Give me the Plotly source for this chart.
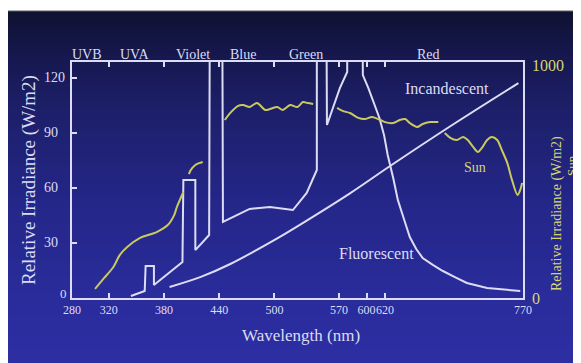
import plotly.graph_objects as go

# ---------------- data ----------------
fluor_nm = [344, 359, 360, 369, 369, 400, 401, 414, 414, 429, 430, 443, 444, 459, 473,
            495, 520, 535, 546, 546, 556, 557, 562, 571, 579, 579, 595, 596, 602, 607,
            614, 619, 623, 629, 634, 641, 647, 654, 661, 672, 683, 696, 709, 731, 767]
fluor_val = [1.1, 3.8, 17.4, 17.4, 7.1, 19.6, 64.3, 64.3, 26.1, 34.3, 200, 200, 41.4, 45.2, 48.5,
             49.5, 47.9, 57.2, 69.7, 200, 200, 94.2, 101.3, 114.3, 123.1, 200, 200, 121.4, 114.3, 107.8,
             98.0, 88.8, 77.9, 65.3, 53.4, 42.5, 33.2, 26.7, 21.8, 18.0, 14.7, 11.4, 8.2, 5.4, 3.8]

incand_nm = [386, 420, 452, 503, 528, 582, 626, 691, 765]
incand_val = [6, 11.5, 18.5, 32.5, 40, 57, 72, 93.5, 117]

sun_nm = [305, 315, 325, 332, 340, 354, 372, 384, 391, 394, 401, None,
          407, 409, 414, 418, 422, None,
          446, 451, 455, 460, 466, 473, 481, 490, 495, 503, 509, 517, 525, 531, 536, 542, None,
          568, 574, 582, 591, 598, 606, 615, 620, 629, 636, 642, 647, 655, 661, 669, 678, None,
          685, 691, 698, 705, 710, 716, 721, 726, 731, 736, 742, 747, 753, 758, 764, 767, 769]
sun_val = [39, 86, 133, 185, 219, 258, 283, 313, 356, 391, 455, None,
           532, 549, 571, 579, 584, None,
           764, 790, 807, 824, 828, 820, 837, 807, 811, 820, 807, 828, 820, 841, 837, 833, None,
           816, 803, 794, 773, 768, 777, 764, 755, 751, 764, 768, 751, 734, 747, 755, 755, None,
           708, 687, 678, 691, 678, 648, 627, 648, 678, 691, 678, 635, 579, 507, 442, 464, 494]

x_ticks = [280, 320, 380, 440, 500, 570, 600, 620, 770]
y_ticks = [0, 30, 60, 90, 120]
y2_ticks = [0, 1000]
bands = ["UVB", "UVA", "Violet", "Blue", "Green", "Red"]
band_nm = [296, 348, 411, 466, 534, 667]

# ---------------- layout helpers ----------------
# the page body adds an 8px white margin, so the figure is 8px smaller
OFF = 8
W, H = 581 - OFF, 363 - OFF
# plot frame in reference-picture pixels
RL, RR, RT, RB = 72, 523, 62, 298
L, R, T, B = RL - OFF, RR - OFF, RT - OFF, RB - OFF


def px_x(px):
    return (px - RL) / (RR - RL)


def px_y(py):
    return (RB - py) / (RB - RT)


WHITE = "#dcdcf4"
SUNC = "#c9c95e"
YEL = "#d6d670"
FONT = "Liberation Serif"

# gradient background as stacked bands (reference-picture y)
stops = [(11, (15, 18, 48)), (45, (20, 22, 72)), (100, (28, 30, 102)),
         (200, (36, 38, 136)), (300, (42, 44, 156)), (363, (44, 46, 162))]


def col_at(y):
    for (y0, c0), (y1, c1) in zip(stops[:-1], stops[1:]):
        if y0 <= y <= y1:
            t = (y - y0) / (y1 - y0)
            return "rgb(%d,%d,%d)" % tuple(round(a + (b - a) * t) for a, b in zip(c0, c1))
    return "rgb(%d,%d,%d)" % stops[-1][1]


shapes = []
step = 4
y = 11
while y < 363:
    y2 = min(y + step, 363)
    shapes.append(dict(type="rect", xref="paper", yref="paper", layer="below",
                       x0=px_x(6), x1=px_x(600), y0=px_y(y2 + 0.5), y1=px_y(y),
                       fillcolor=col_at((y + y2) / 2), line=dict(width=0)))
    y = y2
shapes.append(dict(type="line", xref="paper", yref="paper", layer="below",
                   x0=px_x(6), x1=px_x(600), y0=px_y(11), y1=px_y(11),
                   line=dict(color="#606060", width=1)))

fig = go.Figure()
fig.add_trace(go.Scatter(x=fluor_nm, y=fluor_val, mode="lines",
                         line=dict(color=WHITE, width=2), name="Fluorescent"))
fig.add_trace(go.Scatter(x=incand_nm, y=incand_val, mode="lines",
                         line=dict(color=WHITE, width=2, shape="spline"), name="Incandescent"))
fig.add_trace(go.Scatter(x=sun_nm, y=sun_val, mode="lines", yaxis="y2",
                         line=dict(color=SUNC, width=2, shape="spline", smoothing=0.8),
                         connectgaps=False, name="Sun"))


def ann(text, x, y, xref="paper", yref="paper", size=14, color=WHITE, xanchor="center",
        angle=0, yshift=0):
    return dict(text=text, x=x, y=y, xref=xref, yref=yref, xanchor=xanchor, yanchor="middle",
                textangle=angle, yshift=yshift, showarrow=False,
                font=dict(family=FONT, size=size, color=color))


annotations = []
for b, n in zip(bands, band_nm):
    annotations.append(ann(b, n, px_y(54), xref="x", size=14))
for v in y_ticks:
    if v == 0:
        annotations.append(ann("0", px_x(63), 0, yref="y", size=13, yshift=5))
    else:
        annotations.append(ann(str(v), px_x(42), v, yref="y", size=14, xanchor="left"))
annotations += [
    ann("Incandescent", 687, 114.3, xref="x", yref="y", size=16),
    ann("Fluorescent", 611, 24, xref="x", yref="y", size=16),
    ann("Sun", 718, 71.3, xref="x", yref="y", size=14, color=YEL),
    ann("Wavelength (nm)", px_x(301), px_y(335), size=17),
    ann("Relative Irradiance (W/m2)", px_x(29), px_y(180), size=19, angle=-90),
    ann("Relative Irradiance (W/m2)", px_x(557), px_y(214), size=14, color=YEL, angle=-90),
    ann("Sun", px_x(571), px_y(166), size=13, color=YEL, angle=-90),
]

fig.update_layout(
    width=W, height=H,
    margin=dict(l=L, r=W - R, t=T, b=H - B, pad=0, autoexpand=False),
    paper_bgcolor="white",
    plot_bgcolor="rgba(0,0,0,0)",
    showlegend=False,
    shapes=shapes,
    annotations=annotations,
    xaxis=dict(range=[280, 770], tickmode="array", tickvals=x_ticks,
               ticktext=[str(t) for t in x_ticks], tickangle=0, automargin=False,
               showgrid=False, zeroline=False, showline=True, linecolor=WHITE, linewidth=2,
               mirror="ticks", ticks="inside", ticklen=5, tickwidth=1.5, tickcolor=WHITE,
               tickfont=dict(family=FONT, size=12, color=WHITE)),
    yaxis=dict(range=[0, 128.5], tickmode="array", tickvals=y_ticks, showticklabels=False,
               automargin=False,
               showgrid=False, zeroline=False, showline=True, linecolor=WHITE, linewidth=2,
               mirror=True, ticks="inside", ticklen=5, tickwidth=1.5, tickcolor=WHITE),
    yaxis2=dict(range=[0, 1013], overlaying="y", side="right", tickmode="array",
                tickvals=y2_ticks, showgrid=False, zeroline=False, showline=False, ticks="",
                ticklabelstandoff=8, automargin=False,
                tickfont=dict(family=FONT, size=16, color=YEL)),
)

fig.write_html("out.html")
